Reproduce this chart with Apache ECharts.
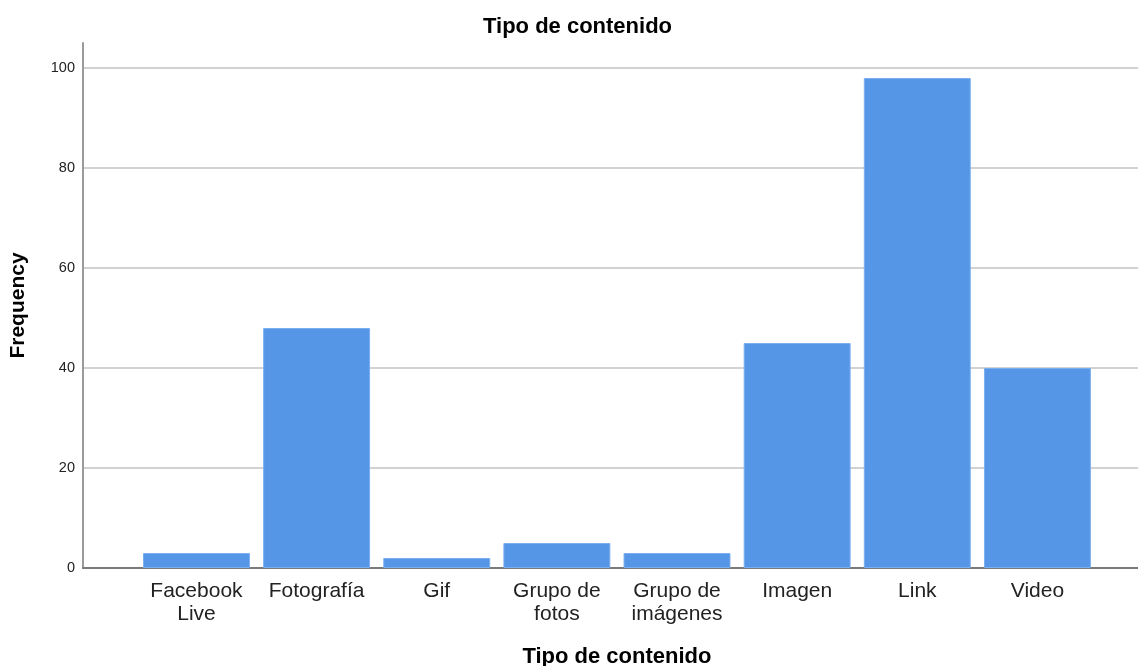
<!DOCTYPE html>
<html>
<head>
<meta charset="utf-8">
<script src="https://cdn.jsdelivr.net/npm/echarts@6/dist/echarts.min.js"></script>
<style>
html,body{margin:0;padding:0;background:#fff;}
#chart{width:1138px;height:666px;}
</style>
</head>
<body>
<div id="chart"></div>
<script>
const categories = ['Facebook\nLive', 'Fotografía', 'Gif', 'Grupo de\nfotos', 'Grupo de\nimágenes', 'Imagen', 'Link', 'Video'];
const frequencies = [3, 48, 2, 5, 3, 45, 98, 40];
const chartTitle = 'Tipo de contenido';
const xAxisTitle = 'Tipo de contenido';
const yAxisTitle = 'Frequency';

const FONT = '"Liberation Sans", Arial, sans-serif';
const chart = echarts.init(document.getElementById('chart'), null, {renderer: 'canvas'});

chart.setOption({
  animation: false,
  backgroundColor: '#ffffff',
  title: {
    text: chartTitle,
    left: 478,
    top: 11,
    textStyle: {fontFamily: FONT, fontSize: 22, fontWeight: 'bold', color: '#000'}
  },
  grid: [
    {left: 83, right: 0, top: 43, bottom: 98, containLabel: false, outerBoundsMode: 'none'},
    {left: 83, right: 0, top: 68, bottom: 98, containLabel: false, outerBoundsMode: 'none'},
    {left: 136.4, right: 40.5, top: 68, bottom: 98, containLabel: false, outerBoundsMode: 'none'}
  ],
  xAxis: [
    {gridIndex: 0, type: 'value', min: 0, max: 1,
      axisLine: {show: true, lineStyle: {color: '#7a7a7a', width: 2}},
      axisTick: {show: false}, axisLabel: {show: false}, splitLine: {show: false}},
    {gridIndex: 1, type: 'value', min: 0, max: 1, show: false},
    {gridIndex: 2, type: 'category', data: categories,
      axisLine: {show: false}, axisTick: {show: false},
      axisLabel: {margin: 12, fontFamily: FONT, fontSize: 21, lineHeight: 23, color: '#222', interval: 0},
      name: xAxisTitle, nameLocation: 'middle', nameGap: 78,
      nameTextStyle: {fontFamily: FONT, fontSize: 22, fontWeight: 'bold', color: '#000'}}
  ],
  yAxis: [
    {gridIndex: 0, type: 'value', min: 0, max: 1,
      axisLine: {show: true, lineStyle: {color: '#9a9a9a', width: 2}},
      axisTick: {show: false}, axisLabel: {show: false}, splitLine: {show: false},
      name: yAxisTitle, nameLocation: 'middle', nameGap: 54,
      nameTextStyle: {fontFamily: FONT, fontSize: 21, fontWeight: 'bold', color: '#000'}},
    {gridIndex: 1, type: 'value', min: 0, max: 100, interval: 20,
      axisLine: {show: false}, axisTick: {show: false},
      axisLabel: {margin: 8, fontFamily: FONT, fontSize: 14.5, color: '#222'},
      splitLine: {show: true, lineStyle: {color: '#d2d2d2', width: 2}}},
    {gridIndex: 2, type: 'value', min: 0, max: 100, show: false}
  ],
  series: [{
    type: 'bar',
    xAxisIndex: 2,
    yAxisIndex: 2,
    data: frequencies,
    barCategoryGap: '11%',
    itemStyle: {color: '#5596e6', borderColor: '#7aaef0', borderWidth: 1},
    z: 3
  }]
});
</script>
</body>
</html>
